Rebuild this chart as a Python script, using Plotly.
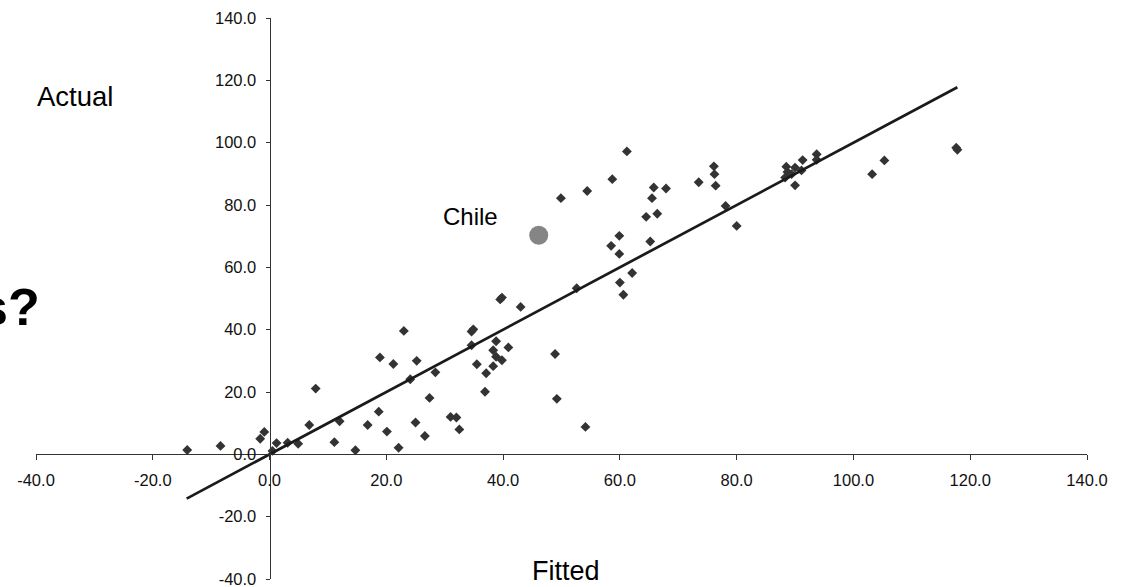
import plotly.graph_objects as go

# Data
fitted = [-14.1, -8.4, -1.6, -0.9, 0.5, 1.2, 3.1, 4.9, 6.8, 7.9, 11.1, 12.0, 14.7, 16.8,
          18.7, 18.9, 21.2, 23.0, 20.1, 22.1, 24.1, 25.2, 25.0, 26.6, 27.4, 28.4, 31.0,
          32.0, 32.5, 60.0, 60.6, 52.6, 39.5, 39.8, 43.0, 34.9, 34.6, 34.6, 38.8, 40.9,
          38.3, 38.8, 39.8, 38.3, 35.5, 37.1, 36.9, 48.9, 49.2, 54.1, 49.9, 54.4, 58.7,
          61.2, 65.8, 67.9, 65.5, 64.5, 66.4, 73.5, 76.1, 76.2, 76.4, 78.1, 80.0, 59.9,
          58.5, 59.9, 65.2, 62.1, 88.5, 90.0, 88.7, 88.3, 89.4, 91.3, 91.1, 90.0, 93.7,
          93.7, 103.2, 105.3, 117.6, 117.8]
actual = [1.4, 2.7, 5.0, 7.2, 1.1, 3.6, 3.7, 3.4, 9.4, 21.1, 3.9, 10.6, 1.3, 9.4,
          13.7, 31.1, 29.0, 39.6, 7.3, 2.1, 24.1, 30.0, 10.2, 5.9, 18.1, 26.3, 12.0,
          11.8, 8.0, 55.1, 51.2, 53.3, 49.7, 50.3, 47.3, 40.1, 39.4, 35.0, 36.3, 34.3,
          33.4, 31.3, 30.2, 28.3, 28.9, 26.0, 20.1, 32.2, 17.8, 8.8, 82.2, 84.5, 88.3,
          97.2, 85.6, 85.3, 82.2, 76.2, 77.2, 87.3, 92.4, 89.9, 86.2, 79.7, 73.3, 70.1,
          66.9, 64.3, 68.3, 58.2, 92.3, 92.0, 90.6, 88.8, 89.9, 94.4, 91.1, 86.3, 96.3,
          94.5, 89.9, 94.3, 98.4, 97.7]
chile_fitted = [46.1]
chile_actual = [70.3]
fit_line_x = [-14.2, 117.8]
fit_line_y = [-14.2, 117.8]
tick_vals = [-40, -20, 0, 20, 40, 60, 80, 100, 120, 140]
tick_text = ["-40.0", "-20.0", "0.0", "20.0", "40.0", "60.0", "80.0", "100.0", "120.0", "140.0"]

FONT = "Arial, Liberation Sans, sans-serif"

fig = go.Figure()
fig.add_trace(go.Scatter(x=fitted, y=actual, mode="markers",
                         marker=dict(symbol="diamond", size=7.6, color="#333333"),
                         showlegend=False, cliponaxis=False))
fig.add_trace(go.Scatter(x=fit_line_x, y=fit_line_y, mode="lines",
                         line=dict(color="#1a1a1a", width=2.7),
                         showlegend=False, cliponaxis=False))
fig.add_trace(go.Scatter(x=chile_fitted, y=chile_actual, mode="markers",
                         marker=dict(symbol="circle", size=19, color="#858585"),
                         showlegend=False, cliponaxis=False))

zero_frac = 40 / 180

fig.update_layout(
    width=1124, height=587,
    margin=dict(l=36, r=37, t=18, b=8, autoexpand=False),
    paper_bgcolor="white", plot_bgcolor="white",
    font=dict(family=FONT, color="#111111"),
    xaxis=dict(range=[-40, 140], tickvals=tick_vals, ticktext=tick_text,
               anchor="free", position=zero_frac, showgrid=False, zeroline=False,
               showline=True, linecolor="#333333", linewidth=1,
               ticks="outside", ticklen=5, tickcolor="#333333", tickwidth=1,
               tickfont=dict(size=16.5, color="#111111", family=FONT),
               ticklabelstandoff=6, ticklabeloverflow="allow", automargin=False),
    yaxis=dict(range=[-40, 140], tickvals=tick_vals, ticktext=tick_text,
               anchor="free", position=zero_frac, showgrid=False, zeroline=False,
               showline=True, linecolor="#333333", linewidth=1,
               ticks="outside", ticklen=4, tickcolor="#333333", tickwidth=1,
               tickfont=dict(size=16.5, color="#111111", family=FONT),
               ticklabelstandoff=6, ticklabeloverflow="allow", automargin=False),
)

def px_to_paper(px, py):
    return (px - 36) / 1051, (579 - py) / 561

annots = [
    ("Actual", 36, 96, 27.5, "left", False),
    ("Fitted", 531, 571, 27, "left", False),
    ("Chile", 442, 216.5, 24, "left", False),
    ("s?", 41, 307, 52, "right", True),
]
for text, px, py, size, anchor, bold in annots:
    x, y = px_to_paper(px, py)
    fig.add_annotation(x=x, y=y, xref="paper", yref="paper",
                       text=("<b>%s</b>" % text) if bold else text,
                       showarrow=False, xanchor=anchor, yanchor="middle",
                       font=dict(size=size, color="#000000", family=FONT), borderpad=0)

fig.write_html("out.html", config={"displayModeBar": False},
               post_script="document.body.style.margin='0';document.body.style.padding='0';")
